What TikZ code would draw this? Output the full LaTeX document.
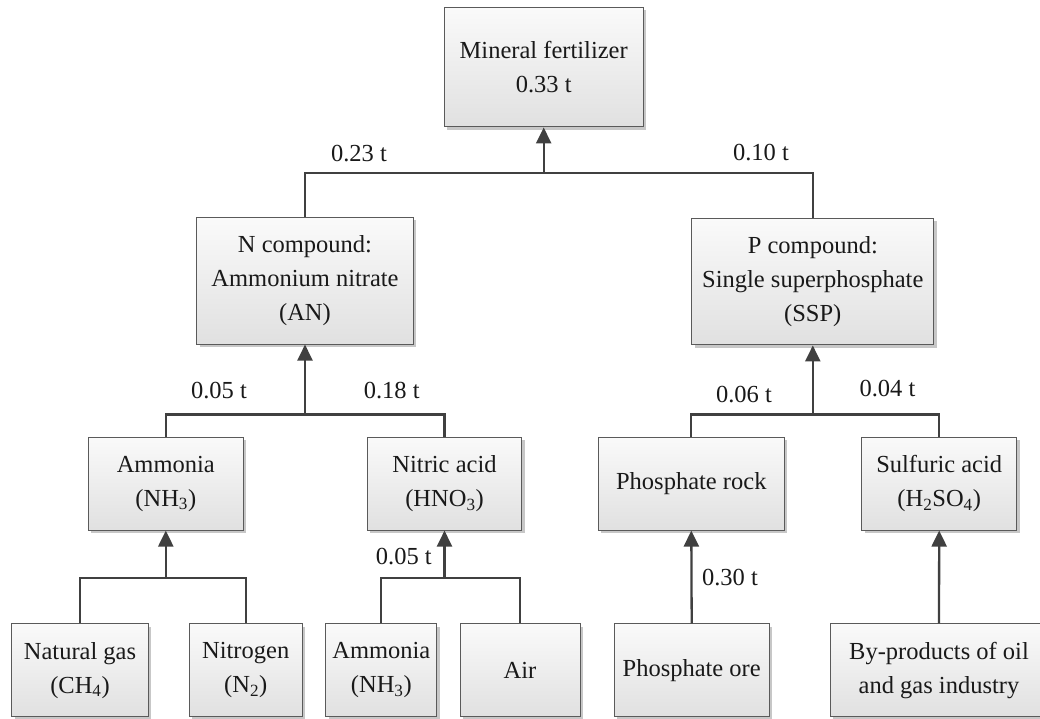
\documentclass[tikz,border=0pt]{standalone}
\usepackage{fontspec}
\setmainfont{Liberation Serif}
\usetikzlibrary{arrows.meta,shadows}
\definecolor{boxline}{HTML}{5A5A5A}
\definecolor{linkgray}{HTML}{404040}
\begin{document}
\begin{tikzpicture}[x=1pt,y=-1pt,
  box/.style={draw=boxline, line width=1pt,
    top color=white!98!black, bottom color=white!88!black,
    drop shadow={shadow xshift=3pt, shadow yshift=-3pt, fill=black, opacity=0.22},
    inner sep=0pt, align=center, text=black!90,
    font=\fontsize{24.5}{34}\selectfont},
  link/.style={draw=linkgray, line width=2.3pt},
  feed/.style={link, -{Triangle[length=16pt,width=15pt]}},
  flow/.style={anchor=base, inner sep=0pt, text=black!90,
    font=\fontsize{24.5}{30}\selectfont}]
\useasboundingbox (0,0) rectangle (1040,718);
\clip (0,0) rectangle (1040,718);

% product
\node[box, minimum width=199pt, minimum height=119.5pt] (fert) at (543.7,67.2)
  {Mineral fertilizer\\0.33 t};

% compounds
\node[box, minimum width=216.6pt, minimum height=126.7pt] (ncomp) at (305,280.7)
  {N compound:\\Ammonium nitrate\\(AN)};
\node[box, minimum width=242.3pt, minimum height=126.5pt] (pcomp) at (812.8,281.7)
  {P compound:\\Single superphosphate\\(SSP)};

% intermediates
\node[box, minimum width=155pt, minimum height=92.7pt] (ammonia) at (165.8,483.7)
  {Ammonia\\(NH\textsubscript{3})};
\node[box, minimum width=154.4pt, minimum height=92.7pt] (nitric) at (444.5,483.7)
  {Nitric acid\\(HNO\textsubscript{3})};
\node[box, minimum width=186pt, minimum height=92.7pt] (prock) at (691.3,483.7)
  {Phosphate rock};
\node[box, minimum width=155pt, minimum height=92.7pt] (sulf) at (939.2,483.7)
  {Sulfuric acid\\(H\textsubscript{2}SO\textsubscript{4})};

% raw materials
\node[box, minimum width=136.6pt, minimum height=92.7pt] (natgas) at (80,670.3)
  {Natural gas\\(CH\textsubscript{4})};
\node[box, minimum width=112.7pt, minimum height=92.7pt] (nitrogen) at (245.7,670.3)
  {Nitrogen\\(N\textsubscript{2})};
\node[box, minimum width=110.7pt, minimum height=92.7pt] (ammonia2) at (381.3,670.3)
  {Ammonia\\(NH\textsubscript{3})};
\node[box, minimum width=120pt, minimum height=92.7pt] (air) at (520,670.3)
  {Air};
\node[box, minimum width=154.7pt, minimum height=92.7pt] (pore) at (691.7,670.3)
  {Phosphate ore};
\node[box, minimum width=218pt, minimum height=92.7pt] (byprod) at (939,670.3)
  {By-products of oil\\and gas industry};

% junction points
\coordinate (jfert) at (543.7,173);
\coordinate (jn) at (305,414.5);
\coordinate (jp) at (812.8,414.5);
\coordinate (jam) at (165.8,578);
\coordinate (jni) at (444.5,578);

% connectors
\draw[link] (ncomp.north) |- (jfert) -| (pcomp.north);
\draw[feed] (jfert) -- (fert.south);

\draw[link] (ammonia.north) |- (jn) -| (nitric.north);
\draw[feed] (jn) -- (ncomp.south);

\draw[link] (prock.north) |- (jp) -| (sulf.north);
\draw[feed] (jp) -- (pcomp.south);

\draw[link] (natgas.north) |- (jam) -| (nitrogen.north);
\draw[feed] (jam) -- (ammonia.south);

\draw[link] (ammonia2.north) |- (jni) -| (air.north);
\draw[feed] (jni) -- (nitric.south);

\draw[feed] (pore.north) -- (prock.south);
\draw[feed] (byprod.north) -- (sulf.south);

% flow quantities
\node[flow] (q1) at (359,161.7) {0.23 t};
\node[flow] (q2) at (761,160.7) {0.10 t};
\node[flow] (q3) at (219,398) {0.05 t};
\node[flow] (q4) at (391.7,398) {0.18 t};
\node[flow] (q5) at (744,402.7) {0.06 t};
\node[flow] (q6) at (887.5,396.7) {0.04 t};
\node[flow] (q7) at (403.8,564) {0.05 t};
\node[flow] (q8) at (730,585) {0.30 t};
\end{tikzpicture}
\end{document}
